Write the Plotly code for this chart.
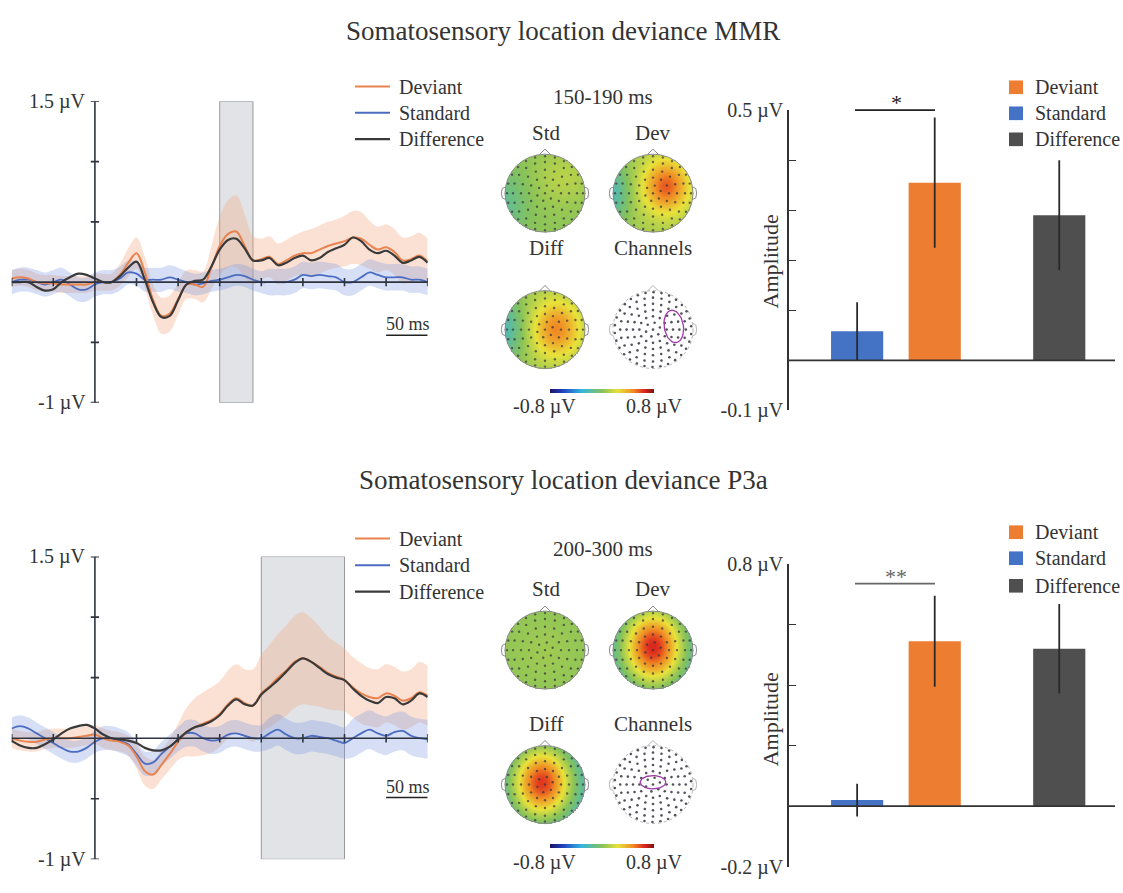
import numpy as np
import plotly.graph_objects as go

W, H = 1123, 893
FONT = "Liberation Serif"
TXT = "#333333"

# ---------------- data ----------------
t_ms = list(range(-100, 401, 10))

mmr_dev = [0.03, 0.04, 0.03, 0.00, -0.01, -0.01, -0.02, -0.02, -0.02, -0.02, 0.00, 0.00, 0.00,
           0.06, 0.16, 0.24, 0.08, -0.15, -0.28, -0.26, -0.14, -0.02, -0.02, -0.04, 0.12, 0.30,
           0.40, 0.42, 0.30, 0.18, 0.19, 0.21, 0.15, 0.18, 0.22, 0.24, 0.24, 0.27, 0.30, 0.32,
           0.34, 0.37, 0.36, 0.31, 0.27, 0.29, 0.25, 0.18, 0.19, 0.22, 0.17]
mmr_dev_se = [0.07] * 13 + [0.09, 0.12, 0.13, 0.13, 0.13, 0.15, 0.15, 0.13, 0.12, 0.12, 0.13,
                            0.18, 0.24, 0.28, 0.30, 0.26, 0.20, 0.17, 0.17, 0.17, 0.17, 0.17,
                            0.18, 0.20, 0.20, 0.20, 0.20, 0.21, 0.22, 0.22, 0.20, 0.19, 0.19,
                            0.19, 0.19, 0.19, 0.19, 0.19]
mmr_std = [0.00, 0.02, 0.02, 0.00, -0.02, 0.00, 0.02, -0.02, -0.06, -0.06, -0.02, 0.00, 0.00,
           0.03, 0.08, 0.07, 0.02, 0.02, 0.02, 0.04, 0.02, 0.00, -0.02, -0.01, 0.01, 0.02,
           0.04, 0.06, 0.05, 0.02, 0.00, 0.00, 0.00, 0.00, 0.02, 0.06, 0.05, 0.06, 0.05, 0.04,
           0.00, 0.00, 0.04, 0.08, 0.06, 0.04, 0.04, 0.04, 0.02, 0.02, 0.00]
mmr_std_se = [0.10] * 11 + [0.10] * 10 + [0.09] * 10 + [0.11] * 20
mmr_diff = [0.00, 0.00, 0.00, -0.04, -0.07, -0.06, 0.00, 0.04, 0.07, 0.06, 0.03, 0.00, 0.00,
            0.05, 0.12, 0.17, 0.02, -0.17, -0.29, -0.28, -0.15, -0.02, 0.01, 0.02, 0.13, 0.27,
            0.35, 0.36, 0.28, 0.18, 0.18, 0.20, 0.14, 0.16, 0.20, 0.22, 0.18, 0.20, 0.25, 0.28,
            0.31, 0.37, 0.34, 0.27, 0.24, 0.26, 0.22, 0.16, 0.18, 0.21, 0.16]

p3a_dev = [0.00, -0.02, -0.03, -0.03, -0.01, 0.00, 0.00, 0.00, 0.01, 0.02, 0.03, 0.00, -0.02,
           -0.03, -0.06, -0.15, -0.27, -0.30, -0.22, -0.13, -0.03, 0.05, 0.09, 0.12, 0.15, 0.20,
           0.28, 0.33, 0.29, 0.27, 0.37, 0.43, 0.50, 0.56, 0.63, 0.66, 0.63, 0.59, 0.54, 0.51,
           0.48, 0.42, 0.37, 0.34, 0.33, 0.37, 0.35, 0.31, 0.33, 0.38, 0.35]
p3a_dev_se = [0.08] * 15 + [0.10, 0.12, 0.12, 0.12, 0.13, 0.15, 0.20, 0.24, 0.26, 0.27, 0.27,
                            0.28, 0.28, 0.28, 0.30, 0.32, 0.34, 0.36, 0.37, 0.38, 0.38, 0.36,
                            0.33, 0.30, 0.28, 0.26, 0.25, 0.25, 0.24, 0.24, 0.24, 0.24, 0.24,
                            0.24, 0.25, 0.25]
p3a_std = [0.08, 0.10, 0.08, 0.04, 0.00, -0.04, -0.08, -0.11, -0.11, -0.08, -0.03, 0.00, 0.00,
           -0.02, -0.05, -0.13, -0.21, -0.20, -0.13, -0.07, -0.01, 0.04, 0.04, 0.00, -0.02, -0.01,
           0.03, 0.04, 0.02, 0.00, 0.00, 0.04, 0.07, 0.03, 0.00, 0.00, 0.02, 0.01, 0.00, -0.02,
           -0.04, 0.00, 0.04, 0.07, 0.04, 0.02, 0.05, 0.06, 0.02, 0.00, -0.01]
p3a_std_se = [0.09] * 11 + [0.10] * 10 + [0.11] * 10 + [0.13] * 10 + [0.16] * 10
p3a_diff = [-0.02, -0.06, -0.08, -0.08, -0.05, -0.01, 0.04, 0.08, 0.10, 0.11, 0.08, 0.03, 0.00,
            -0.01, -0.02, -0.04, -0.08, -0.10, -0.10, -0.07, -0.01, 0.05, 0.09, 0.11, 0.14, 0.19,
            0.27, 0.32, 0.28, 0.27, 0.36, 0.42, 0.48, 0.55, 0.62, 0.66, 0.63, 0.58, 0.53, 0.50,
            0.48, 0.41, 0.35, 0.31, 0.29, 0.34, 0.33, 0.28, 0.31, 0.37, 0.34]

mmr_window = [150, 190]
p3a_window = [200, 300]

bar_conditions = ["Standard", "Deviant", "Difference"]
mmr_bar_vals = [0.058, 0.355, 0.290]
mmr_bar_err = [0.058, 0.130, 0.110]
p3a_bar_vals = [0.020, 0.545, 0.520]
p3a_bar_err = [0.054, 0.150, 0.148]

# topography models: base value + blobs (cx, cy, amplitude, sx, sy)
topo_mmr_std = (0.02, [(0.45, 0.40, 0.10, 0.50, 0.50), (-1.05, -0.30, -0.15, 0.40, 0.60)])
topo_mmr_dev = (0.08, [(0.32, 0.18, 0.48, 0.40, 0.47), (-1.10, 0.00, -0.30, 0.35, 0.60)])
topo_mmr_diff = (0.06, [(0.28, 0.02, 0.42, 0.44, 0.52), (-1.10, 0.00, -0.28, 0.40, 0.60)])
topo_p3a_std = (0.02, [(0.00, 0.00, 0.04, 0.60, 0.60)])
topo_p3a_dev = (-0.30, [(0.00, 0.08, 0.95, 0.55, 0.70)])
topo_p3a_diff = (-0.30, [(-0.08, 0.05, 0.92, 0.54, 0.66)])

# ---------------- styling ----------------
C_DEV = "#e9834f"
C_STD = "#4b6cc1"
C_DIFF = "#3a3a3a"
BAR_COLORS = {"Standard": "#4472c4", "Deviant": "#ed7d31", "Difference": "#4f4f4f"}
BAR_POS = {"Standard": 2.09, "Deviant": 4.47, "Difference": 8.29}

CS = [[0.0, "#1b1464"], [0.12, "#1f3fbf"], [0.3, "#33b5e0"], [0.5, "#86c25a"],
      [0.65, "#e9e23a"], [0.8, "#f08a24"], [0.9, "#de2a1e"], [1.0, "#7f1010"]]


def fx(p):
    return p / W


def fy(p):
    return 1 - p / H


fig = go.Figure()
layout_axes = {}
shapes = []
annotations = []


def txt(s, x, y, size=20, xanchor="center", yanchor="middle", color=TXT, angle=0):
    annotations.append(dict(text=s, x=fx(x), y=fy(y), xref="paper", yref="paper",
                            showarrow=False, xanchor=xanchor, yanchor=yanchor, textangle=angle,
                            font=dict(family=FONT, size=size, color=color)))


def pline(x0, y0, x1, y1, color=TXT, width=1.5, dash=None):
    d = dict(type="line", x0=fx(x0), y0=fy(y0), x1=fx(x1), y1=fy(y1), xref="paper",
             yref="paper", line=dict(color=color, width=width))
    if dash:
        d["line"]["dash"] = dash
    shapes.append(d)


def prect(x0, y0, x1, y1, color):
    shapes.append(dict(type="rect", x0=fx(x0), y0=fy(y1), x1=fx(x1), y1=fy(y0), xref="paper",
                       yref="paper", fillcolor=color, line=dict(width=0)))


# ---------------- ERP panels ----------------
def erp_panel(n, top, bottom, dev, dev_se, std, std_se, diff, window, scale_y, scale_txt_y,
              leg_ys):
    xa, ya = f"x{n}" if n > 1 else "x", f"y{n}" if n > 1 else "y"
    layout_axes[f"xaxis{n if n > 1 else ''}"] = dict(domain=[fx(11.7), fx(427.7)], range=[-100, 400],
                                                     visible=False, anchor=ya)
    layout_axes[f"yaxis{n if n > 1 else ''}"] = dict(domain=[fy(bottom), fy(top)], range=[-1, 1.5],
                                                     visible=False, anchor=xa)
    t = np.array(t_ms)
    for vals, se, col, fillc in [(dev, dev_se, C_DEV, "rgba(244,170,130,0.35)"),
                                 (std, std_se, C_STD, "rgba(120,150,225,0.30)")]:
        v = np.array(vals)
        s = np.array(se)
        fig.add_trace(go.Scatter(x=t, y=v + s, mode="lines", line=dict(width=0, shape="spline"),
                                 xaxis=xa, yaxis=ya, showlegend=False, hoverinfo="skip"))
        fig.add_trace(go.Scatter(x=t, y=v - s, mode="lines", line=dict(width=0, shape="spline"),
                                 fill="tonexty", fillcolor=fillc, xaxis=xa, yaxis=ya,
                                 showlegend=False, hoverinfo="skip"))
    for vals, col, w, name in [(std, C_STD, 1.8, "Standard"), (dev, C_DEV, 2.0, "Deviant"),
                               (diff, C_DIFF, 2.2, "Difference")]:
        fig.add_trace(go.Scatter(x=t_ms, y=vals, mode="lines", name=name,
                                 line=dict(color=col, width=w, shape="spline"),
                                 xaxis=xa, yaxis=ya, showlegend=False))
    ax_col = "#2e3340"
    shapes.append(dict(type="rect", xref=xa, yref=ya, x0=window[0], x1=window[1], y0=-1, y1=1.5,
                       fillcolor="rgba(200,204,212,0.55)", line=dict(color="#9a9a9a", width=1),
                       layer="below"))
    shapes.append(dict(type="line", xref=xa, yref=ya, x0=-100, x1=400, y0=0, y1=0,
                       line=dict(color=ax_col, width=1.6), layer="above"))
    shapes.append(dict(type="line", xref=xa, yref=ya, x0=0, x1=0, y0=-1, y1=1.5,
                       line=dict(color=ax_col, width=1.6), layer="above"))
    for v in [-1, -0.5, 0.5, 1, 1.5]:
        shapes.append(dict(type="line", xref=xa, yref=ya, x0=-5, x1=5, y0=v, y1=v,
                           line=dict(color=ax_col, width=1.6), layer="above"))
    for v in range(-100, 401, 50):
        if v == 0:
            continue
        shapes.append(dict(type="line", xref=xa, yref=ya, x0=v, x1=v, y0=-0.035, y1=0.035,
                           line=dict(color=ax_col, width=1.6), layer="above"))
    # scale bar
    shapes.append(dict(type="line", xref=xa, yref=ya, x0=350, x1=400, y0=scale_y, y1=scale_y,
                       line=dict(color="#222", width=1.5)))
    txt("50 ms", 408, scale_txt_y, size=18)
    txt("1.5 µV", 88, top, xanchor="right")
    txt("-1 µV", 88, bottom, xanchor="right")
    for (name, col, w), ly in zip([("Deviant", C_DEV, 2.0), ("Standard", C_STD, 2.0),
                                   ("Difference", C_DIFF, 2.2)], leg_ys):
        pline(355, ly, 390, ly, color=col, width=w)
        txt(name, 397, ly, xanchor="left")


erp_panel(1, 92.7, 402.0, mmr_dev, mmr_dev_se, mmr_std, mmr_std_se, mmr_diff, mmr_window,
          -0.44, 321, [77.5, 104.5, 131.5])
erp_panel(2, 560.0, 870.7, p3a_dev, p3a_dev_se, p3a_std, p3a_std_se, p3a_diff, p3a_window,
          -0.49, 797, [541.5, 569, 596])


# ---------------- bar panels ----------------
def bar_panel(n, top, bottom, ymax, ymin, tickvals, vals, errs, sig_y, sig_txt, sig_txt_y,
              sig_color, leg_ys, amp_y):
    xa, ya = f"x{n}", f"y{n}"
    layout_axes[f"xaxis{n}"] = dict(domain=[fx(789), fx(1115)], range=[0, 10], visible=False,
                                    anchor=ya)
    ticktext = [f"{v:g} µV" if v in (ymax, ymin) else "" for v in tickvals]
    layout_axes[f"yaxis{n}"] = dict(domain=[fy(bottom), fy(top)], range=[ymin, ymax], anchor=xa,
                                    showline=True, linecolor="#333", linewidth=1.6,
                                    ticks="inside", ticklen=7, tickwidth=1.4, tickcolor="#333",
                                    tickvals=tickvals, ticktext=ticktext, showgrid=False,
                                    zeroline=False,
                                    tickfont=dict(family=FONT, size=20, color=TXT))
    for cond, v, e in zip(bar_conditions, vals, errs):
        fig.add_trace(go.Bar(x=[BAR_POS[cond]], y=[v], width=1.6, name=cond,
                             marker=dict(color=BAR_COLORS[cond], line=dict(width=0)),
                             error_y=dict(type="data", array=[e], color="#2a2a2a", thickness=1.8,
                                          width=0),
                             xaxis=xa, yaxis=ya, showlegend=False))
    shapes.append(dict(type="line", xref=xa, yref=ya, x0=0, x1=10, y0=0, y1=0,
                       line=dict(color="#333", width=1.6), layer="above"))
    pline(855, sig_y, 935, sig_y, color=sig_color, width=1.8)
    txt(sig_txt, 896, sig_txt_y, size=22, color=sig_color)
    for cond, ly in zip(["Deviant", "Standard", "Difference"], leg_ys):
        prect(1009, ly - 7, 1023, ly + 7, BAR_COLORS[cond])
        txt(cond, 1033, ly, xanchor="left")
    txt("Amplitude", 770, amp_y, size=22, angle=-90)


bar_panel(3, 101.7, 410.0, 0.5, -0.1, [-0.1, 0.1, 0.2, 0.3, 0.4, 0.5], mmr_bar_vals,
          mmr_bar_err, 101.7, "*", 94, "#222", [78.3, 105, 131.7], 257)
bar_panel(4, 567.7, 878.3, 0.8, -0.2, [-0.2, 0.2, 0.4, 0.6, 0.8], p3a_bar_vals, p3a_bar_err,
          587.7, "**", 580, "#666", [535, 561.7, 590], 727)

# ---------------- topographies ----------------
grid = np.linspace(-1, 1, 121)
GX, GY = np.meshgrid(grid, grid)
R = np.sqrt(GX ** 2 + GY ** 2)


def ring_layout(spec):
    xs, ys = [], []
    for rr, cnt in spec:
        for k in range(cnt):
            a = 2 * np.pi * k / cnt + (0.3 if cnt % 4 else 0.0)
            xs.append(rr * np.cos(a))
            ys.append(rr * np.sin(a))
    return xs, ys


elec_x, elec_y = ring_layout([(0, 1), (0.2, 6), (0.4, 12), (0.6, 16), (0.8, 20), (0.95, 24)])
chan_x, chan_y = ring_layout([(0, 1), (0.18, 6), (0.34, 12), (0.5, 16), (0.66, 20), (0.82, 24),
                              (0.96, 30)])


def field(model):
    base, blobs = model
    Z = np.full_like(GX, base)
    for cx, cy, amp, sx, sy in blobs:
        Z = Z + amp * np.exp(-((GX - cx) ** 2 / (2 * sx ** 2) + (GY - cy) ** 2 / (2 * sy ** 2)))
    Z[R > 1.0] = np.nan
    return Z


def head_shapes(xa, ya, color="#8a8a8a", dash=None):
    ln = dict(color=color, width=1)
    if dash:
        ln["dash"] = dash
    shapes.append(dict(type="circle", xref=xa, yref=ya, x0=-1, y0=-1, x1=1, y1=1, line=ln,
                       layer="above"))
    shapes.append(dict(type="path", xref=xa, yref=ya, path="M -0.14 0.99 L 0 1.13 L 0.14 0.99",
                       line=dict(color=color, width=1), layer="above"))
    for s in (1, -1):
        shapes.append(dict(type="path", xref=xa, yref=ya,
                           path=f"M {0.99*s} 0.16 L {1.07*s} 0.12 L {1.09*s} 0 L {1.07*s} -0.12 L {0.99*s} -0.16",
                           line=dict(color=color, width=1), layer="above"))


def topo_axis(n, cx, cy):
    layout_axes[f"xaxis{n}"] = dict(domain=[fx(cx - 50), fx(cx + 50)], range=[-1.25, 1.25],
                                    visible=False, anchor=f"y{n}")
    layout_axes[f"yaxis{n}"] = dict(domain=[fy(cy + 50), fy(cy - 50)], range=[-1.25, 1.25],
                                    visible=False, anchor=f"x{n}")
    return f"x{n}", f"y{n}"


def topo_map(n, cx, cy, model):
    xa, ya = topo_axis(n, cx, cy)
    fig.add_trace(go.Heatmap(x=grid, y=grid, z=field(model), colorscale=CS, zmin=-0.8, zmax=0.8,
                             showscale=False, xaxis=xa, yaxis=ya, hoverinfo="skip"))
    fig.add_trace(go.Scatter(x=elec_x, y=elec_y, mode="markers",
                             marker=dict(size=2.4, color="rgba(50,50,60,0.7)"),
                             xaxis=xa, yaxis=ya, showlegend=False, hoverinfo="skip"))
    head_shapes(xa, ya)


def channel_map(n, cx, cy, ecx, ecy, erx, ery, tilt):
    xa, ya = topo_axis(n, cx, cy)
    fig.add_trace(go.Scatter(x=chan_x, y=chan_y, mode="markers",
                             marker=dict(size=2.6, color="rgba(40,40,50,0.8)"),
                             xaxis=xa, yaxis=ya, showlegend=False, hoverinfo="skip"))
    head_shapes(xa, ya, color="#b5b5b5", dash="dot")
    ang = np.linspace(0, 2 * np.pi, 60)
    ex = ecx + erx * np.cos(ang) * np.cos(tilt) - ery * np.sin(ang) * np.sin(tilt)
    ey = ecy + erx * np.cos(ang) * np.sin(tilt) + ery * np.sin(ang) * np.cos(tilt)
    fig.add_trace(go.Scatter(x=ex, y=ey, mode="lines", line=dict(color="#a03aa8", width=1.3),
                             xaxis=xa, yaxis=ya, showlegend=False, hoverinfo="skip"))


def colorbar(n, y0, y1):
    xa, ya = f"x{n}", f"y{n}"
    layout_axes[f"xaxis{n}"] = dict(domain=[fx(550), fx(654)], range=[-0.8, 0.8], visible=False,
                                    anchor=ya)
    layout_axes[f"yaxis{n}"] = dict(domain=[fy(y1), fy(y0)], range=[-0.5, 0.5], visible=False,
                                    anchor=xa)
    cb = np.linspace(-0.8, 0.8, 161)
    fig.add_trace(go.Heatmap(x=cb, y=[0], z=[cb], colorscale=CS, zmin=-0.8, zmax=0.8,
                             showscale=False, xaxis=xa, yaxis=ya, hoverinfo="skip"))


# MMR
txt("150-190 ms", 603, 88, size=21)
txt("Std", 546, 125, size=21)
txt("Dev", 652, 125, size=21)
txt("Diff", 546, 243, size=21)
txt("Channels", 653, 243, size=21)
topo_map(5, 545, 187, topo_mmr_std)
topo_map(6, 653, 187, topo_mmr_dev)
topo_map(7, 545, 327, topo_mmr_diff)
channel_map(8, 653, 327, 0.52, 0.08, 0.24, 0.42, 0.15)
colorbar(13, 388, 392)
txt("-0.8 µV", 544, 406, size=20)
txt("0.8 µV", 654, 406, size=20)

# P3a
txt("200-300 ms", 603, 552, size=21)
txt("Std", 546, 593, size=21)
txt("Dev", 652, 593, size=21)
txt("Diff", 546, 732, size=21)
txt("Channels", 653, 732, size=21)
topo_map(9, 545, 656, topo_p3a_std)
topo_map(10, 653, 656, topo_p3a_dev)
topo_map(11, 545, 794, topo_p3a_diff)
channel_map(12, 653, 794, 0.0, 0.06, 0.32, 0.17, 0.0)
colorbar(14, 855, 859)
txt("-0.8 µV", 544, 874, size=20)
txt("0.8 µV", 654, 874, size=20)

# titles
txt("Somatosensory location deviance MMR", 563, 21, size=27)
txt("Somatosensory location deviance P3a", 563, 481, size=27)

fig.update_layout(width=W, height=H, margin=dict(l=0, r=0, t=0, b=0), paper_bgcolor="white",
                  plot_bgcolor="rgba(0,0,0,0)", showlegend=False, shapes=shapes,
                  annotations=annotations, barmode="overlay", **layout_axes)
fig.write_html("out.html")
